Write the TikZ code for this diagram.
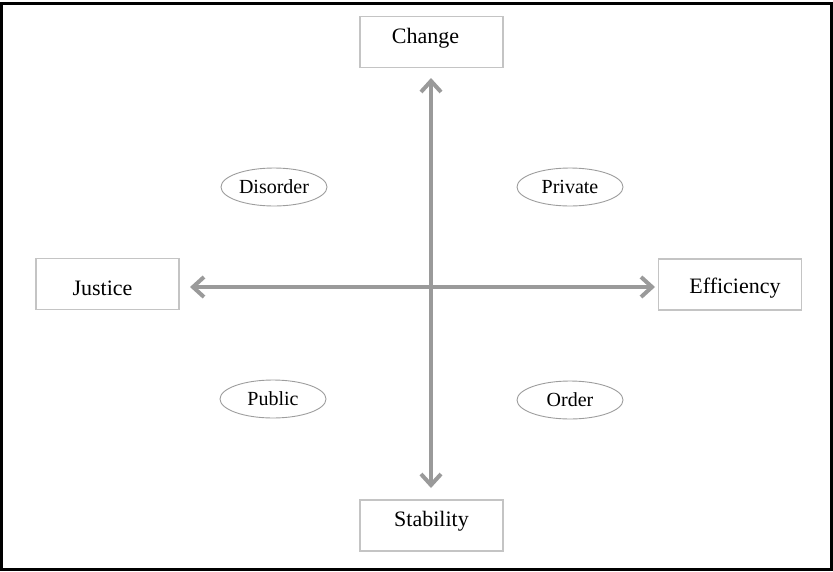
\documentclass[tikz,border=0pt]{standalone}
\usepackage{fontspec}
\setmainfont{Liberation Serif}
\usetikzlibrary{arrows.meta,shapes.geometric}
\definecolor{arrowgray}{HTML}{9A9A9A}
\definecolor{boxgray}{HTML}{C4C4C4}
\tikzset{
  mainbox/.style={draw=boxgray, line width=1.2pt, fill=white, minimum width=143pt, minimum height=51pt, inner sep=0pt, text height=15pt, text depth=5pt, font=\fontsize{22}{24}\selectfont},
  oval/.style={draw=boxgray!80!black, line width=0.9pt, ellipse, fill=white, minimum width=106pt, minimum height=38pt, inner sep=0pt, font=\fontsize{20}{22}\selectfont},
  axis/.style={draw=arrowgray, line width=4.5pt, {Straight Barb[length=11pt,width=20pt,line width=4pt]}-{Straight Barb[length=11pt,width=20pt,line width=4pt]}}
}
\begin{document}
\begin{tikzpicture}[x=1pt,y=-1pt]
\useasboundingbox (0,0) rectangle (833,571);
\draw[line width=3pt] (1.5,3) rectangle (831,569);
\node[mainbox] (change) at (431.5,42) {\raisebox{3.2pt}{\hspace*{-12pt}Change}};
\node[mainbox] (justice) at (107.5,284) {\raisebox{-6.8pt}{\hspace*{-10pt}Justice}};
\node[mainbox] (eff) at (730,284.5) {\raisebox{-3.8pt}{\hspace*{10pt}Efficiency}};
\node[mainbox] (stab) at (431.5,525.5) {\raisebox{3.7pt}{Stability}};
\node[oval] (dis) at (274,187) {Disorder};
\node[oval] (priv) at (570,187) {Private};
\node[oval] (pub) at (273,399) {Public};
\node[oval] (ord) at (570,400) {Order};
\coordinate (top) at (431,78);
\coordinate (bot) at (431,488);
\coordinate (left) at (190,287);
\coordinate (right) at (655,287);
\draw[axis] (top) -- (bot);
\draw[axis] (left) -- (right);
\end{tikzpicture}
\end{document}
